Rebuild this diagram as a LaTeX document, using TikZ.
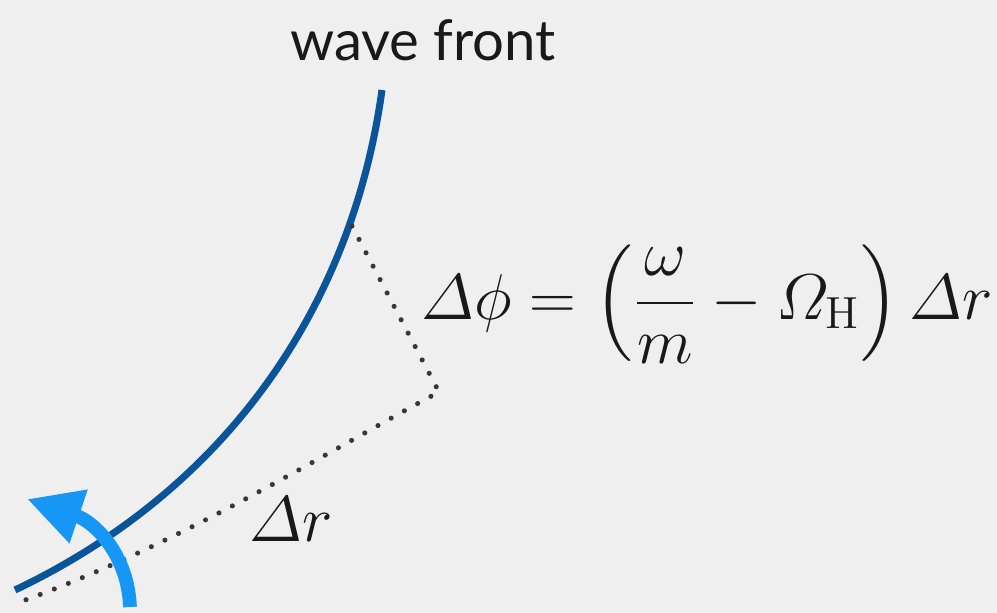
\documentclass[tikz,border=0pt]{standalone}
\usepackage{amsmath}
\usepackage{graphicx}
\usepackage{fontspec}
\setsansfont{Lato}
\usetikzlibrary{arrows.meta}
\definecolor{paper}{RGB}{239,239,239}
\definecolor{frontblue}{RGB}{10,84,154}
\definecolor{spinblue}{RGB}{22,150,245}
\definecolor{dotgray}{RGB}{55,55,55}
\definecolor{ink}{RGB}{25,25,25}
\tikzset{
  front/.style ={line width=2pt, frontblue},
  ray/.style   ={line width=1.45pt, dotgray, line cap=round, dash pattern=on 0pt off 4.3pt},
  spin/.style  ={line width=3.9pt, spinblue, -{Triangle[length=15.5pt,width=15pt]}},
  lbl/.style   ={font=\fontsize{17.28}{21}\selectfont, inner sep=0pt, text=ink},
  title/.style ={font=\sffamily\fontsize{16}{18}\selectfont, inner sep=0pt, text=ink},
}
\newcommand{\bigmath}[1]{\scalebox{1.065}{$\displaystyle #1$}}

\begin{document}
\begin{tikzpicture}[x=0.01cm, y=-0.01cm]
  \fill[paper] (0,0) rectangle (997,613);
  \useasboundingbox (0,0) rectangle (997,613);
  % points
  \coordinate (ftop) at (382,90);
  \coordinate (fbot) at (15,590);
  \coordinate (rstart) at (352,226);
  \coordinate (rcorner) at (439,392);
  \coordinate (rend) at (17,603);
  \coordinate (sbot) at (130,607);
  \coordinate (stip) at (27,499);
  % labels
  \node[title] (name) at (423,40) {wave front};
  \node[lbl] (phase) at (707,304) {\bigmath{\varDelta\phi = \left(\frac{\omega}{m} - \varOmega_{\mathrm{H}}\right)\varDelta r}};
  \node[lbl] (dr) at (291,519) {\bigmath{\varDelta r}};
  % curves
  \draw[front] (ftop) .. controls (350,320) and (215,495) .. (fbot);
  \draw[ray] (rstart) -- (rcorner) .. controls (330,450) and (180,545) .. (rend);
  \draw[spin] (sbot) .. controls (128,555) and (95,522) .. (stip);
\end{tikzpicture}
\end{document}
